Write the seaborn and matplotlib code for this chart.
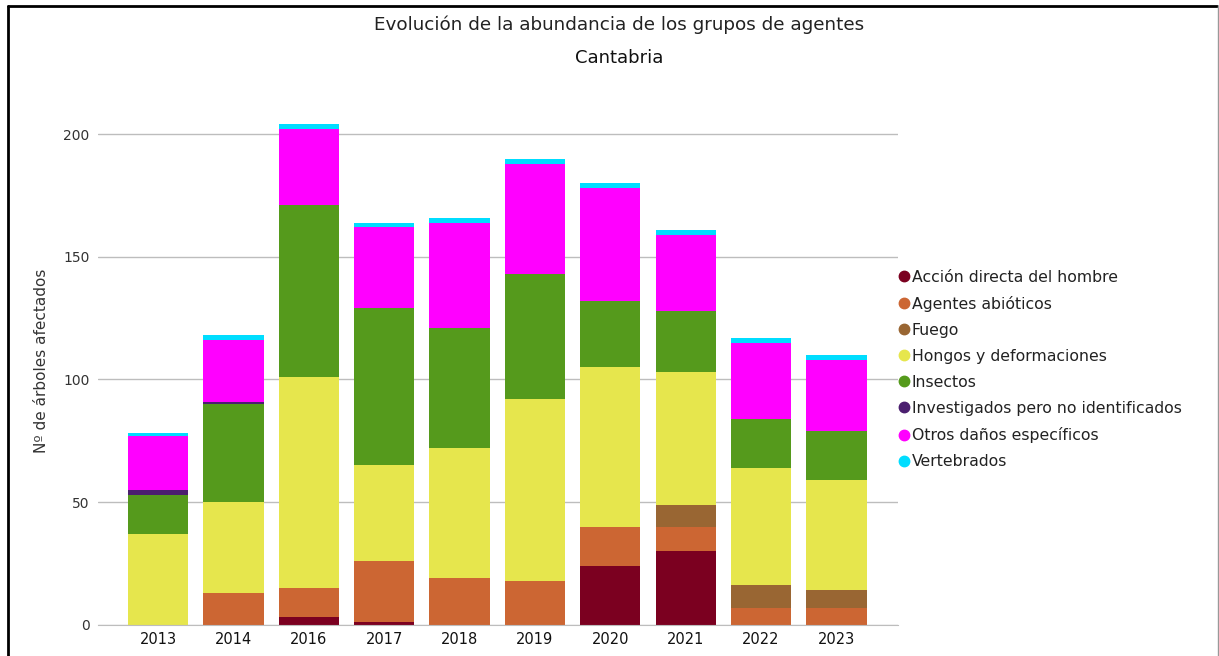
import numpy as np
import pandas as pd
import matplotlib
matplotlib.use('Agg')
import matplotlib.pyplot as plt
from matplotlib.lines import Line2D
import seaborn as sns

# Datos
anios = ['2013', '2014', '2016', '2017', '2018', '2019', '2020', '2021', '2022', '2023']
accion_hombre = [0, 0, 3, 1, 0, 0, 24, 30, 0, 0]
abioticos = [0, 13, 12, 25, 19, 18, 16, 10, 7, 7]
fuego = [0, 0, 0, 0, 0, 0, 0, 9, 9, 7]
hongos = [37, 37, 86, 39, 53, 74, 65, 54, 48, 45]
insectos = [16, 40, 70, 64, 49, 51, 27, 25, 20, 20]
investigados = [2, 1, 0, 0, 0, 0, 0, 0, 0, 0]
otros = [22, 25, 31, 33, 43, 45, 46, 31, 31, 29]
vertebrados = [1, 2, 2, 2, 2, 2, 2, 2, 2, 2]

grupos = ['Acción directa del hombre', 'Agentes abióticos', 'Fuego',
          'Hongos y deformaciones', 'Insectos',
          'Investigados pero no identificados', 'Otros daños específicos',
          'Vertebrados']
valores = [accion_hombre, abioticos, fuego, hongos, insectos,
           investigados, otros, vertebrados]
colores = ['#7b0020', '#cc6633', '#996633', '#e6e64d', '#559a1c',
           '#4b1f6f', '#ff00ff', '#00ddff']

sns.set_style('white')
plt.rcParams['font.family'] = ['DejaVu Sans']

fig = plt.figure(figsize=(12.19, 6.56), dpi=100)
ax = fig.add_axes([0.0804, 0.0477, 0.6559, 0.8037])

# Barras apiladas
base = np.zeros(len(anios))
for nombre, vals, col in zip(grupos, valores, colores):
    sns.barplot(x=anios, y=vals, bottom=base, color=col, width=0.8,
                saturation=1, linewidth=0, ax=ax, label=nombre)
    base = base + np.array(vals)

ax.set_xlim(-0.796, 9.81)
ax.set_ylim(0, 215)
ax.set_yticks([0, 50, 100, 150, 200])
ax.yaxis.grid(True, color='#bdbdbd', linewidth=1)
ax.set_axisbelow(True)
for s in ['top', 'right', 'left']:
    ax.spines[s].set_visible(False)
ax.spines['bottom'].set_color('#bdbdbd')
ax.tick_params(axis='y', length=0, pad=6, labelsize=10, labelcolor='#333333')
ax.tick_params(axis='x', length=0, pad=5, labelsize=10.5, labelcolor='#111111')
ax.set_xlabel('')
ax.set_ylabel('Nº de árboles afectados', fontsize=11, color='#333333', labelpad=10)

# Leyenda con marcadores circulares
handles = [Line2D([0], [0], marker='o', linestyle='', markersize=7.5,
                  markerfacecolor=c, markeredgecolor=c) for c in colores]
ax.legend(handles, grupos, loc='upper left', bbox_to_anchor=(0.738, 0.589),
          bbox_transform=fig.transFigure, frameon=False, fontsize=11.3,
          handlelength=0.5, handletextpad=0.28, labelspacing=0.705,
          borderaxespad=0, borderpad=0, labelcolor='#222222')

# Títulos
fig.text(0.508, 0.962, 'Evolución de la abundancia de los grupos de agentes',
         ha='center', va='center', fontsize=13.2, color='#222222')
fig.text(0.508, 0.912, 'Cantabria', ha='center', va='center',
         fontsize=13, color='#111111')

# Marco
fig.add_artist(Line2D([0.0065, 0.0065], [0, 0.991], color='black', linewidth=2,
                      transform=fig.transFigure))
fig.add_artist(Line2D([0.0065, 0.998], [0.991, 0.991], color='black', linewidth=2,
                      transform=fig.transFigure))
fig.add_artist(Line2D([0.9988, 0.9988], [0, 0.991], color='#999999', linewidth=1,
                      transform=fig.transFigure))

fig.savefig('out.png', dpi=100)
